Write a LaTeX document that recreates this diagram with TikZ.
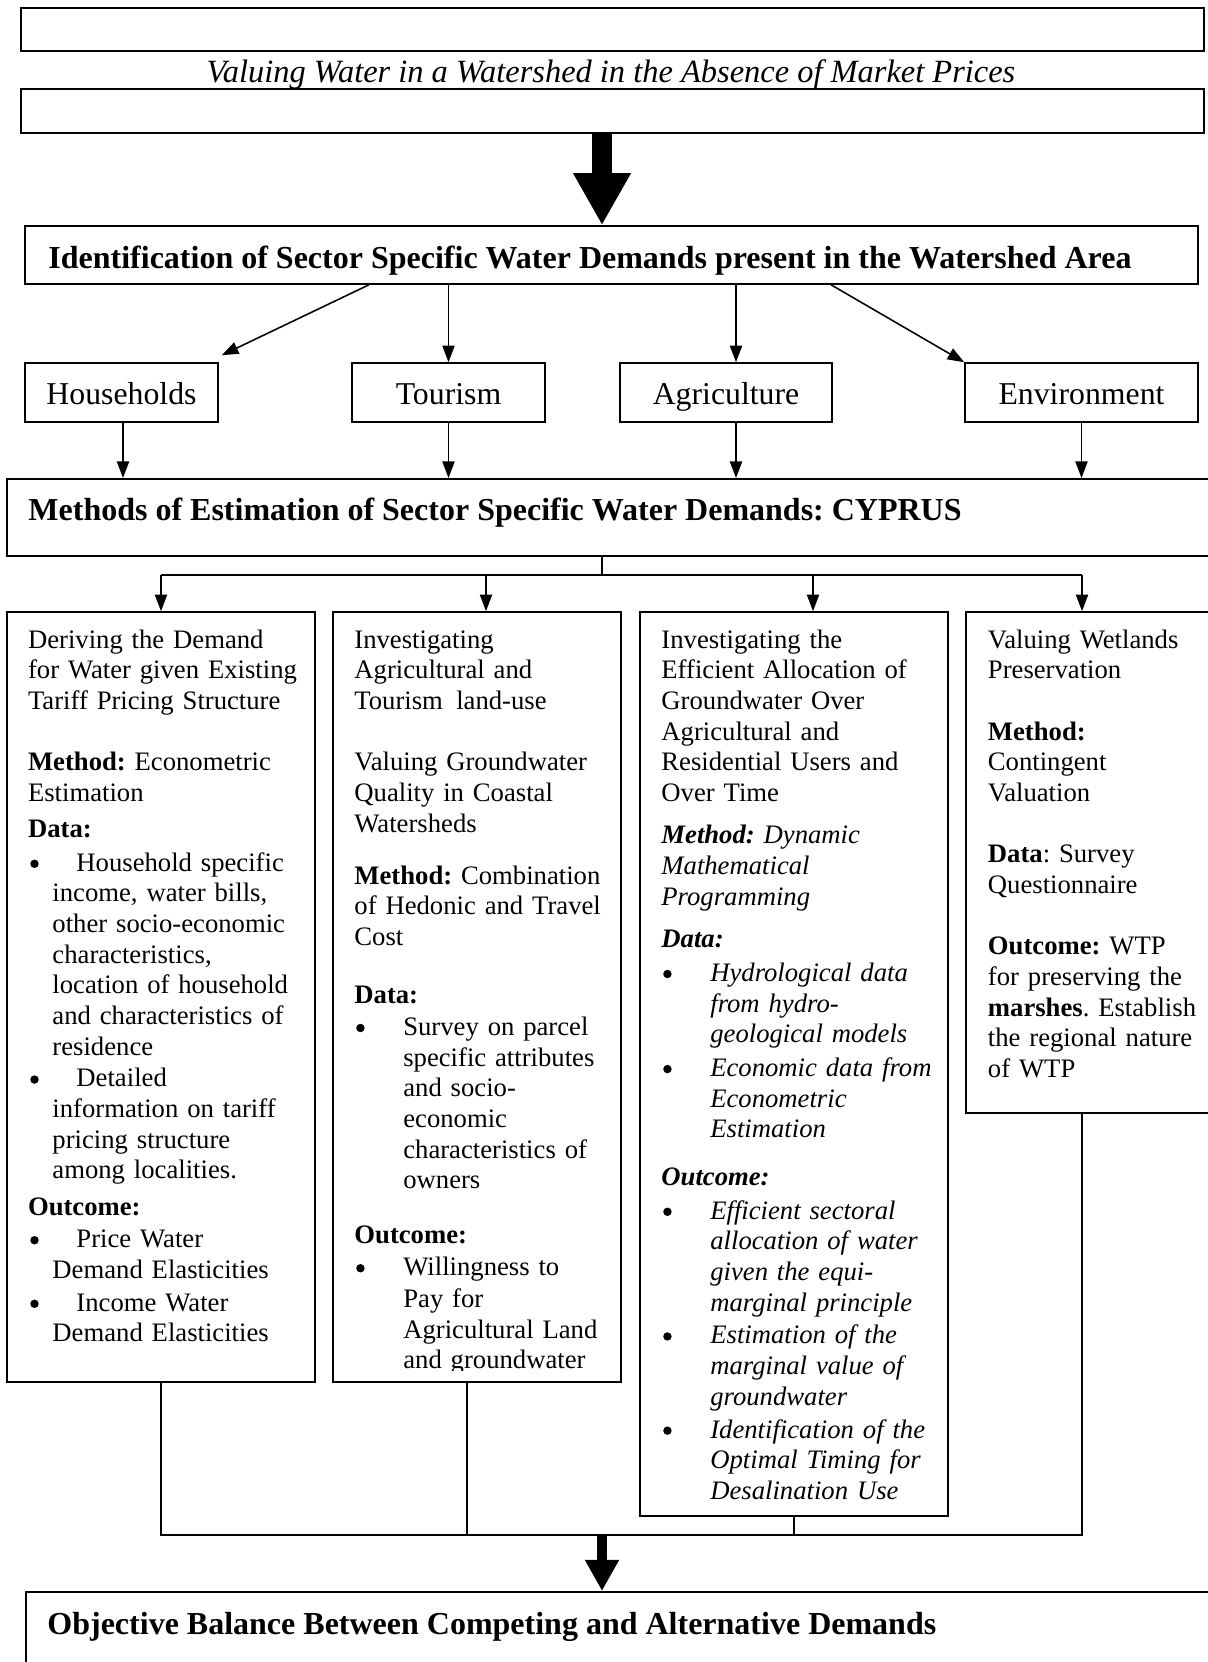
\documentclass[tikz,border=0pt]{standalone}
\usepackage{fontspec}
\setmainfont{Liberation Serif}
\usetikzlibrary{arrows.meta,fit,calc}
\frenchspacing
\newcommand\bdot{\tikz[baseline=0pt]{\fill (0pt,3.3pt) circle[radius=1.9pt];}}
\newcommand\blt[2]{\makebox[#2][l]{\hspace*{#1}\bdot}}
\begin{document}
\begin{tikzpicture}[x=0.45pt,y=-0.45pt,
  boxa/.style={draw, line width=0.9pt, inner sep=0pt, fit={#1}},
  boxb/.style={draw, line width=0.7pt, inner sep=0pt, fit={#1}},
  sectx/.style={inner sep=0pt, anchor=base, font=\fontsize{14.3pt}{16pt}\selectfont},
  head/.style={inner sep=0pt, anchor=base west, font=\fontsize{14.4pt}{16pt}\selectfont\bfseries},
  body/.style={inner sep=0pt, anchor=base west, text width=200pt, align=left, font=\fontsize{12pt}{13.8pt}\selectfont\frenchspacing},
  ln/.style={line width=0.7pt},
  arr/.style={line width=0.7pt, -{Triangle[length=7.5pt,width=5.5pt]}},
  bigA/.style={line width=9pt, -{Triangle[length=23.4pt,width=24.3pt]}},
  bigB/.style={line width=4.5pt, -{Triangle[length=14pt,width=14.4pt]}},
]
\useasboundingbox (0,0) rectangle (1207,1662);

% column coordinates
\coordinate (ax) at (602,0);
\coordinate (d1) at (369,0);
\coordinate (d2) at (831,0);
\coordinate (c1) at (123,0);
\coordinate (c3) at (736,0);
\coordinate (k1) at (161,0);
\coordinate (k2a) at (486,0);
\coordinate (k2b) at (467,0);
\coordinate (k3a) at (813,0);
\coordinate (k3b) at (794,0);
\coordinate (k4) at (1082,0);
\coordinate (busT) at (0,575);
\coordinate (busB) at (0,1535);
\coordinate (sl) at (0,404);

% top
\node[boxa={(21,8) (1204,51)}] (t1) {};
\node[font=\fontsize{14.6pt}{16pt}\selectfont\itshape, inner sep=0pt, anchor=base] (title) at (611,83)
  {Valuing Water in a Watershed in the Absence of Market Prices};
\node[boxa={(21,89) (1204,133)}] (t2) {};

\node[boxb={(25,226) (1198,284)}] (ident) {};
\node[head] (identtx) at (48,268) {Identification of Sector Specific Water Demands present in the Watershed Area};

\node[boxb={(25,363) (218,422)}] (hh) {};
\node[boxb={(352,363) (545,422)}] (tour) {};
\node[boxb={(620,363) (832,422)}] (agri) {};
\node[boxb={(965,363) (1198,422)}] (env) {};
\node[sectx] (hhtx) at (hh.center |- sl) {Households};
\node[sectx] (tourtx) at (tour.center |- sl) {Tourism};
\node[sectx] (agritx) at (agri.center |- sl) {Agriculture};
\node[sectx] (envtx) at (env.center |- sl) {Environment};

\node[boxa={(7,479) (1215,556)}] (meth) {};
\node[head] (methtx) at (28,520) {Methods of Estimation of Sector Specific Water Demands: CYPRUS};

\node[boxb={(7,612) (315,1382)}] (b1) {};
\node[boxb={(333,612) (621,1382)}] (b2) {};
\node[boxb={(640,612) (948,1516)}] (b3) {};
\node[boxb={(966,612) (1215,1113)}] (b4) {};

\node[boxa={(26,1592) (1215,1680)}] (obj) {};
\node[head] (objtx) at (47,1634) {Objective Balance Between Competing and Alternative Demands};

% connectors top
\draw[bigA] (t2.south -| ax) -- (ident.north -| ax);
\draw[arr] (ident.south -| d1) -- ($(hh.north east)+(3,-7)$);
\draw[arr] (ident.south -| tour.north) -- (tour.north);
\draw[arr] (ident.south -| c3) -- (agri.north -| c3);
\draw[arr] (ident.south -| d2) -- (env.north west);

\draw[arr] (hh.south -| c1) -- (meth.north -| c1);
\draw[arr] (tour.south) -- (meth.north -| tour.south);
\draw[arr] (agri.south -| c3) -- (meth.north -| c3);
\draw[arr] (env.south) -- (meth.north -| env.south);

\draw[ln] (meth.south -| ax) -- (ax |- busT);
\draw[ln] (k1 |- busT) -- (k4 |- busT);
\draw[arr] (k1 |- busT) -- (b1.north -| k1);
\draw[arr] (k2a |- busT) -- (b2.north -| k2a);
\draw[arr] (k3a |- busT) -- (b3.north -| k3a);
\draw[arr] (k4 |- busT) -- (b4.north -| k4);

% connectors bottom
\draw[ln] (b1.south -| k1) -- (k1 |- busB) -- (k4 |- busB) -- (b4.south -| k4);
\draw[ln] (b2.south -| k2b) -- (k2b |- busB);
\draw[ln] (b3.south -| k3b) -- (k3b |- busB);
\draw[bigB] (ax |- busB) -- (obj.north -| ax);

% box texts
\node[body] (tx1) at (27.6,648) {%
Deriving the Demand\\
for Water given Existing\\
Tariff Pricing Structure\\[13.8pt]
\textbf{Method:} Econometric\\
Estimation\\[2.4pt]
\textbf{Data:}\\[1.4pt]
\blt{1pt}{21.8pt}Household specific\\
\hspace*{11pt}income, water bills,\\
\hspace*{11pt}other socio-economic\\
\hspace*{11pt}characteristics,\\
\hspace*{11pt}location of household\\
\hspace*{11pt}and characteristics of\\
\hspace*{11pt}residence\\[0.5pt]
\blt{1pt}{21.8pt}Detailed\\
\hspace*{11pt}information on tariff\\
\hspace*{11pt}pricing structure\\
\hspace*{11pt}among localities.\\[2.8pt]
\textbf{Outcome:}\\[0.5pt]
\blt{1pt}{21.8pt}Price Water\\
\hspace*{11pt}Demand Elasticities\\[1pt]
\blt{1pt}{21.8pt}Income Water\\
\hspace*{11pt}Demand Elasticities};

\begin{scope}
\clip (333,612) rectangle (621,1370);
\node[body] (tx2) at (354,648) {%
Investigating\\
Agricultural and\\
Tourism\hspace{0.5em}land-use\\[13.8pt]
Valuing Groundwater\\
Quality in Coastal\\
Watersheds\\[9.6pt]
\textbf{Method:} Combination\\
of Hedonic and Travel\\
Cost\\[12.4pt]
\textbf{Data:}\\[0.5pt]
\blt{0.8pt}{22pt}Survey on parcel\\
\hspace*{22pt}specific attributes\\
\hspace*{22pt}and socio-\\
\hspace*{22pt}economic\\
\hspace*{22pt}characteristics of\\
\hspace*{22pt}owners\\[11pt]
\textbf{Outcome:}\\[0.5pt]
\blt{0.8pt}{22pt}Willingness to\\[0.5pt]
\hspace*{22pt}Pay for\\
\hspace*{22pt}Agricultural Land\\
\hspace*{22pt}and groundwater};
\end{scope}

\node[body] (tx3) at (661,648) {%
Investigating the\\
Efficient Allocation of\\
Groundwater Over\\
Agricultural and\\
Residential Users and\\
Over Time\\[5.3pt]
\itshape\textbf{Method:} Dynamic\\
Mathematical\\
Programming\\[5.3pt]
\textbf{Data:}\\[1.4pt]
\blt{0.8pt}{22pt}Hydrological data\\
\hspace*{22pt}from hydro-\\
\hspace*{22pt}geological models\\[1.4pt]
\blt{0.8pt}{22pt}Economic data from\\
\hspace*{22pt}Econometric\\
\hspace*{22pt}Estimation\\[7.6pt]
\textbf{Outcome:}\\[1.4pt]
\blt{0.8pt}{22pt}Efficient sectoral\\
\hspace*{22pt}allocation of water\\
\hspace*{22pt}given the equi-\\
\hspace*{22pt}marginal principle\\[0.9pt]
\blt{0.8pt}{22pt}Estimation of the\\
\hspace*{22pt}marginal value of\\
\hspace*{22pt}groundwater\\[1pt]
\blt{0.8pt}{22pt}Identification of the\\
\hspace*{22pt}Optimal Timing for\\
\hspace*{22pt}Desalination Use};

\node[body] (tx4) at (987.5,648) {%
Valuing Wetlands\\
Preservation\\[13.8pt]
\textbf{Method:}\\
Contingent\\
Valuation\\[13.8pt]
\textbf{Data}: Survey\\
Questionnaire\\[13.8pt]
\textbf{Outcome:} WTP\\
for preserving the\\
\textbf{marshes}. Establish\\
the regional nature\\
of WTP};
\end{tikzpicture}
\end{document}
